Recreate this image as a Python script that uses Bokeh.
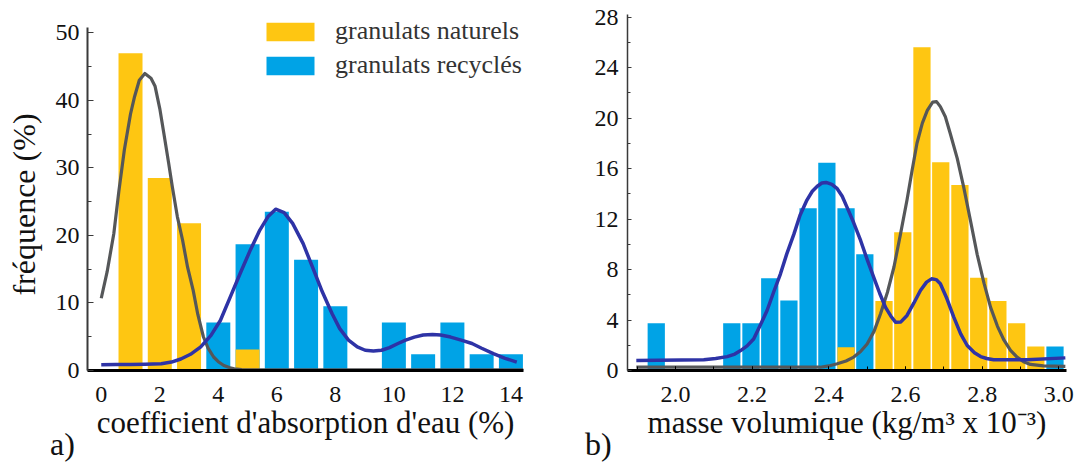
from bokeh.plotting import figure
from bokeh.layouts import row, column
from bokeh.models import (Legend, LegendItem, Div, SingleIntervalTicker,
                          NumeralTickFormatter, Range1d)
from bokeh.embed import file_html
from bokeh.resources import INLINE

# ---------------- data ----------------
# a) water absorption coefficient (%)
abs_nat_x = [1, 2, 3, 5]
abs_nat_y = [47.0, 28.5, 21.8, 3.1]
abs_rec_x = [4, 5, 6, 7, 8, 10, 11, 12, 13, 14]
abs_rec_y = [7.1, 18.7, 23.5, 16.4, 9.5, 7.1, 2.4, 7.1, 2.4, 2.4]
abs_nat_fit_x = [0.0, 0.2, 0.43, 0.6, 0.79, 1.0, 1.14, 1.3, 1.49, 1.7, 1.84, 2.0, 2.14, 2.3, 2.43, 2.6,
                 2.78, 2.95, 3.14, 3.3, 3.49, 3.65, 3.84, 4.0, 4.19, 4.4, 4.55, 4.8, 5.0, 14.43]
abs_nat_fit_y = [10.7, 14.6, 20.3, 26.5, 32.7, 38.0, 40.6, 43.0, 44.0, 43.3, 42.1, 38.8, 35.1, 30.8,
                 27.2, 22.8, 19.3, 15.3, 11.9, 8.3, 5.0, 3.3, 2.0, 1.3, 0.74, 0.4, 0.25, 0.15, 0.1, 0.1]
abs_rec_fit_x = [0.0, 0.5, 1.0, 1.5, 2.05, 2.4, 2.72, 3.05, 3.40, 3.75, 4.07, 4.4, 4.75, 5.1, 5.42,
                 5.7, 5.96, 6.25, 6.54, 6.9, 7.22, 7.55, 7.89, 8.15, 8.45, 8.75, 9.02, 9.3, 9.58,
                 9.85, 10.14, 10.4, 10.70, 11.0, 11.32, 11.6, 11.94, 12.3, 12.67, 13.0, 13.40,
                 13.8, 14.2]
abs_rec_fit_y = [0.85, 0.88, 0.9, 0.93, 1.0, 1.25, 1.7, 2.4, 3.5, 5.2, 7.4, 10.8, 14.4, 17.9, 20.8,
                 22.8, 23.9, 23.4, 21.8, 18.8, 15.3, 11.7, 8.4, 6.2, 4.5, 3.5, 3.0, 2.9, 3.0,
                 3.4, 4.0, 4.5, 4.95, 5.25, 5.35, 5.25, 4.95, 4.5, 4.0, 3.3, 2.5,
                 1.8, 1.25]

# b) density (kg/m3 x 10^-3)
den_rec_x = [1.950, 2.147, 2.197, 2.246, 2.296, 2.346, 2.395, 2.445, 2.494, 2.990]
den_rec_y = [3.75, 3.75, 3.75, 7.3, 5.55, 12.85, 16.45, 12.85, 9.2, 1.9]
den_nat_x = [2.445, 2.544, 2.593, 2.643, 2.692, 2.742, 2.791, 2.841, 2.890, 2.940]
den_nat_y = [1.85, 5.5, 10.95, 25.6, 16.5, 14.7, 7.35, 5.5, 3.75, 1.9]
den_rec_fit_x = [1.898, 2.074, 2.105, 2.135, 2.155, 2.17, 2.187, 2.204, 2.22, 2.239, 2.256, 2.274,
                 2.29, 2.309, 2.325, 2.343, 2.357, 2.37, 2.382, 2.393, 2.408, 2.422, 2.435, 2.448,
                 2.465, 2.483, 2.5, 2.517, 2.533, 2.548, 2.562, 2.574, 2.588, 2.604, 2.622, 2.639,
                 2.655, 2.668, 2.68, 2.691, 2.708, 2.726, 2.744, 2.761, 2.78, 2.796, 2.812, 2.83,
                 2.917, 3.017]
den_rec_fit_y = [0.79, 0.85, 0.95, 1.1, 1.3, 1.58, 1.95, 2.5, 3.5, 4.75, 6.2, 7.66,
                 9.2, 10.8, 12.3, 13.5, 14.2, 14.6, 14.85, 14.9, 14.75, 14.4, 13.8, 12.9,
                 11.7, 10.3, 8.8, 7.4, 6.1, 5.0, 4.3, 3.83, 3.85, 4.36, 5.35, 6.34,
                 7.0, 7.26, 7.2, 6.87, 5.7, 4.23, 2.9, 1.98, 1.4, 1.1, 0.95, 0.85,
                 0.85, 1.0]
den_nat_fit_x = [1.898, 2.378, 2.4, 2.422, 2.445, 2.465, 2.483, 2.5, 2.518, 2.535, 2.553, 2.57, 2.587,
                 2.604, 2.617, 2.63, 2.644, 2.657, 2.671, 2.681, 2.691, 2.704, 2.717, 2.735,
                 2.752, 2.77, 2.787, 2.805, 2.822, 2.84, 2.857, 2.874, 2.891, 2.908, 2.926, 2.96,
                 3.017]
den_nat_fit_y = [0.26, 0.26, 0.36, 0.53, 0.75, 1.06, 1.5, 2.1, 3.1, 4.5, 6.2, 8.2, 10.8,
                 13.5, 15.8, 18.0, 19.6, 20.6, 21.26, 21.3, 20.9, 20.1, 18.75, 16.8,
                 14.5, 11.8, 9.2, 6.9, 5.0, 3.5, 2.4, 1.6, 1.06, 0.7, 0.48, 0.36,
                 0.32]

labels = ["granulats naturels", "granulats recyclés"]

YELLOW = "#FEC612"
BLUE = "#00A3E6"
GRAY = "#555759"
DBLUE = "#2E33A6"
FONT = "Liberation Serif"
NB = "\u00a0"


def style(p):
    p.outline_line_color = None
    p.xgrid.visible = False
    p.ygrid.visible = False
    p.background_fill_color = "white"
    p.border_fill_color = "white"
    for ax in (p.xaxis[0], p.yaxis[0]):
        ax.major_label_text_font = FONT
        ax.major_label_text_font_size = "24px"
        ax.major_label_text_color = "#111111"
        ax.axis_label_text_font = FONT
        ax.axis_label_text_font_size = "31px"
        ax.axis_label_text_font_style = "normal"
        ax.axis_label_text_color = "#111111"
        ax.major_tick_out = 0
        ax.minor_tick_out = 0
    xa = p.xaxis[0]
    xa.axis_line_color = "black"
    xa.axis_line_width = 3
    xa.major_label_standoff = 16
    xa.axis_label_standoff = 0


# ---------------- figure a ----------------
p1 = figure(width=547, height=463, x_range=Range1d(-0.47, 14.43), y_range=Range1d(0, 52.74),
            output_backend="svg", toolbar_location=None, title=None,
            min_border_left=87, min_border_right=24, min_border_top=14, min_border_bottom=93)
style(p1)
r_rec1 = p1.vbar(x=abs_rec_x, top=abs_rec_y, width=0.82, fill_color=BLUE, line_color=None)
r_nat1 = p1.vbar(x=abs_nat_x, top=abs_nat_y, width=0.82, fill_color=YELLOW, line_color=None)
p1.line(abs_nat_fit_x, abs_nat_fit_y, line_color=GRAY, line_width=3.2, line_join="round")
p1.line(abs_rec_fit_x, abs_rec_fit_y, line_color=DBLUE, line_width=3.5, line_join="round")

p1.xaxis[0].ticker = SingleIntervalTicker(interval=2, num_minor_ticks=0)
p1.xaxis[0].major_tick_in = 0
p1.xaxis[0].minor_tick_in = 0
p1.xaxis[0].axis_label = "coefficient d'absorption d'eau (%)"
ya = p1.yaxis[0]
ya.ticker = SingleIntervalTicker(interval=10, num_minor_ticks=2)
ya.bounds = (0, 50.8)
ya.major_tick_in = 6
ya.minor_tick_in = 4
ya.major_tick_line_color = "#3a3a3a"
ya.minor_tick_line_color = "#3a3a3a"
ya.axis_line_color = "#3a3a3a"
ya.axis_line_width = 2
ya.major_label_standoff = 8
ya.axis_label = "fréquence (%)" + NB * 3
ya.axis_label_text_font_size = "32px"
ya.axis_label_standoff = 11

legend = Legend(items=[LegendItem(label=labels[0], renderers=[r_nat1]),
                       LegendItem(label=labels[1], renderers=[r_rec1])],
                location=(173, 290), glyph_width=60, glyph_height=23, label_height=23,
                spacing=4, padding=0, margin=0, label_standoff=15,
                border_line_color=None, background_fill_alpha=0,
                label_text_font=FONT, label_text_font_size="26px", label_text_color="#333333")
p1.add_layout(legend)

# ---------------- figure b ----------------
p2 = figure(width=527, height=463, x_range=Range1d(1.875, 3.020), y_range=Range1d(0, 28.2),
            output_backend="svg", toolbar_location=None, title=None,
            min_border_left=80, min_border_right=8, min_border_top=14, min_border_bottom=93)
style(p2)
p2.vbar(x=den_rec_x, top=den_rec_y, width=0.045, fill_color=BLUE, line_color=None)
p2.vbar(x=den_nat_x, top=den_nat_y, width=0.045, fill_color=YELLOW, line_color=None)
p2.line(den_nat_fit_x, den_nat_fit_y, line_color=GRAY, line_width=3.2, line_join="round")
p2.line(den_rec_fit_x, den_rec_fit_y, line_color=DBLUE, line_width=3.5, line_join="round")

xb = p2.xaxis[0]
xb.ticker = SingleIntervalTicker(interval=0.2, num_minor_ticks=2)
xb.formatter = NumeralTickFormatter(format="0.0")
xb.major_tick_in = 4
xb.minor_tick_in = 4
xb.axis_label = "masse volumique (kg/m³ x 10⁻³)"
yb = p2.yaxis[0]
yb.ticker = SingleIntervalTicker(interval=4, num_minor_ticks=2)
yb.major_tick_in = 4
yb.minor_tick_in = 3
yb.axis_line_color = "#3a3a3a"
yb.major_tick_line_color = "#3a3a3a"
yb.minor_tick_line_color = "#3a3a3a"
yb.axis_line_width = 1.5
yb.major_label_standoff = 9

# panel letters
letter_style = {"font-family": FONT, "font-size": "32px", "color": "#111111",
                "line-height": "normal", "white-space": "nowrap"}
div_a = Div(text="a)", width=40, height=37, margin=(-37, 0, 0, 50), styles=letter_style)
div_b = Div(text="b)", width=40, height=37, margin=(-37, 0, 0, 495), styles=letter_style)

layout = column(row(p1, p2), row(div_a, div_b))
open("out.html", "w").write(file_html(layout, INLINE))
